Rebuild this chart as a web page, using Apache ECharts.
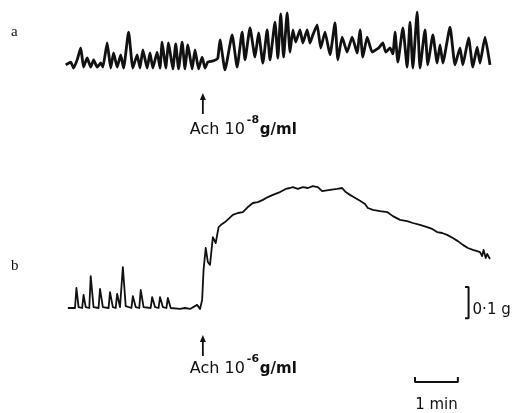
<!DOCTYPE html>
<html><head><meta charset="utf-8">
<script src="https://cdn.jsdelivr.net/npm/echarts@6/dist/echarts.min.js"></script>
<style>html,body{margin:0;padding:0;background:#fff}#c{width:521px;height:413px}</style>
</head><body><div id="c"></div>
<script>
// Trace a: spontaneous contractions, Ach 1e-8 g/ml added at t = 0 s (tension in mg)
const aTime = [-192,-185,-181,-176,-171,-167,-162,-157,-153,-148,-143,-140,-134,-129,-125,-120,-115,-111,-104,-98,-92,-88,-84,-78,-74,-70,-64,-60,-57,-52,-48,-42,-38,-34,-29,-25,-21,-15,-11,-6,-1,3,7,13,18,21,24,31,41,48,55,59,66,73,78,84,90,94,101,105,109,113,118,122,126,130,136,140,146,150,154,160,165,171,178,185,189,195,202,209,216,220,224,230,237,242,246,252,256,262,266,269,273,280,286,290,294,300,304,311,315,322,328,332,336,346,353,360,364,372,378,384,388,395,402];
const aTension = [10,19,0,26,64,3,32,3,26,3,16,3,80,0,48,3,42,0,115,0,42,0,58,0,48,0,51,0,83,0,80,-3,77,-3,83,-3,74,-3,58,-3,35,0,19,22,26,32,90,-6,106,3,115,26,128,35,112,16,122,26,147,32,173,35,176,51,122,83,122,80,122,80,106,138,64,115,42,144,26,99,51,99,48,122,35,99,51,58,64,80,51,64,45,115,19,128,3,147,0,179,0,122,10,106,16,74,16,131,10,64,10,96,3,67,16,99,10];
// Trace b: Ach 1e-6 g/ml added at t = 0 s (tension in mg)
const bTime = [-189,-179,-177,-174,-169,-167,-164,-159,-157,-153,-146,-144,-140,-132,-130,-126,-122,-120,-116,-114,-112,-108,-100,-98,-94,-89,-87,-83,-73,-71,-67,-62,-60,-56,-51,-49,-45,-32,-25,-18,-8,-4,-1,1,4,7,10,14,18,22,27,31,36,42,49,56,63,70,77,84,91,98,108,116,122,126,133,140,147,154,161,167,178,188,195,200,206,211,220,227,231,238,248,258,266,276,286,294,304,314,321,328,335,342,350,357,364,371,378,384,388,391,393,396,398,402];
const bTension = [0,0,64,3,0,42,3,0,102,3,0,61,3,0,51,3,0,45,3,0,131,6,0,38,3,0,58,3,0,35,3,0,35,3,0,32,0,-3,0,-3,10,-3,26,122,192,147,138,227,208,259,269,275,285,298,304,307,323,336,339,346,355,362,371,381,384,387,381,387,384,390,387,374,378,381,384,371,362,355,343,333,320,314,310,307,294,282,278,272,266,259,253,243,240,234,224,214,202,192,186,182,179,166,186,160,173,157];
// Calibration bars: 0.1 g (100 mg) and 1 min (60 s)
const tensionBar = {time: [367, 372, 372, 367], mg: [67, 67, -33, -33]};
const timeBar = {time: [297, 297, 357, 357], mg: [-221, -237, -237, -221]};
const labels = {a: 'a', b: 'b', doseA: '-8', doseB: '-6', tension: '0·1 g', time: '1 min'};

const zip = (t, v) => t.map((x, i) => [x, v[i]]);
const chart = echarts.init(document.getElementById('c'), null, {renderer: 'canvas'});
const xAx = (gi) => ({type: 'value', gridIndex: gi, min: -200, max: 416, show: false});
const ink = '#111';
chart.setOption({
  animation: false,
  backgroundColor: '#fff',
  grid: [
    {left: 60, width: 440, top: 5.5, height: 100},
    {left: 60, width: 440, top: 183, height: 230}
  ],
  xAxis: [xAx(0), xAx(1)],
  yAxis: [
    {type: 'value', gridIndex: 0, min: -120, max: 200, show: false},
    {type: 'value', gridIndex: 1, min: -336, max: 400, show: false}
  ],
  series: [
    {type: 'line', xAxisIndex: 0, yAxisIndex: 0, data: zip(aTime, aTension), showSymbol: false, smooth: 0.15,
     lineStyle: {color: ink, width: 2.8, join: 'round'}},
    {type: 'line', xAxisIndex: 1, yAxisIndex: 1, data: zip(bTime, bTension), showSymbol: false,
     lineStyle: {color: ink, width: 1.8, join: 'round'}},
    {type: 'line', xAxisIndex: 1, yAxisIndex: 1, data: zip(tensionBar.time, tensionBar.mg), showSymbol: false,
     lineStyle: {color: ink, width: 2}},
    {type: 'line', xAxisIndex: 1, yAxisIndex: 1, data: zip(timeBar.time, timeBar.mg), showSymbol: false,
     lineStyle: {color: ink, width: 2}}
  ]
});

const ax0 = chart.convertToPixel({xAxisIndex: 0}, 0);
const txtFont = '"DejaVu Sans", sans-serif';
function doseGroup(y, ty, sup) {
  const x = ax0;
  return [
    {type: 'line', shape: {x1: x, y1: y, x2: x, y2: y - 17}, style: {stroke: ink, lineWidth: 1.8}},
    {type: 'polygon', shape: {points: [[x - 3, y - 14], [x + 3, y - 14], [x, y - 21]]}, style: {fill: ink}},
    {type: 'text', x: x - 13, y: ty, style: {text: 'Ach 10', font: '16px ' + txtFont, fill: ink, textBaseline: 'top'}},
    {type: 'text', x: x + 44, y: ty - 7, style: {text: sup, font: 'bold 11px ' + txtFont, fill: ink, textBaseline: 'top'}},
    {type: 'text', x: x + 57, y: ty + 1, style: {text: 'g/ml', font: 'bold 15px ' + txtFont, fill: ink, textBaseline: 'top'}}
  ];
}
const tb = chart.convertToPixel({xAxisIndex: 1, yAxisIndex: 1}, [tensionBar.time[1], (tensionBar.mg[0] + tensionBar.mg[2]) / 2]);
const mb = chart.convertToPixel({xAxisIndex: 1, yAxisIndex: 1}, [(timeBar.time[0] + timeBar.time[2]) / 2, timeBar.mg[1]]);
chart.setOption({
  graphic: [
    {type: 'text', x: 11, y: 25, style: {text: labels.a, font: '15px "Liberation Serif", serif', fill: ink}},
    {type: 'text', x: 11, y: 259, style: {text: labels.b, font: '15px "Liberation Serif", serif', fill: ink}},
    ...doseGroup(114, 122, labels.doseA),
    ...doseGroup(356, 361, labels.doseB),
    {type: 'text', x: tb[0] + 4, y: tb[1], style: {text: labels.tension, font: '15px ' + txtFont, fill: ink, textBaseline: 'middle'}},
    {type: 'text', x: mb[0], y: mb[1] + 16, style: {text: labels.time, font: '15px ' + txtFont, fill: ink, textAlign: 'center', textBaseline: 'top'}}
  ]
});
</script></body></html>
